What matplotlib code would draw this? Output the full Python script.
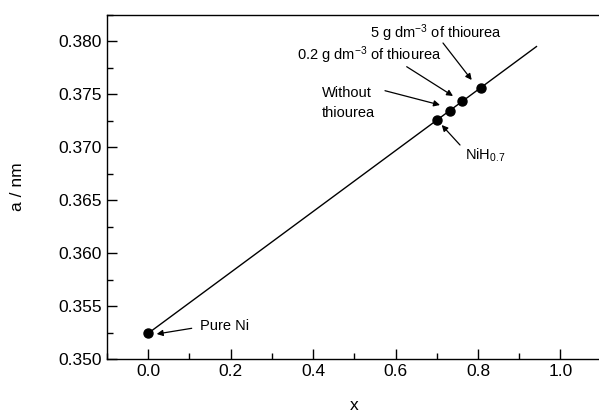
import numpy as np
import matplotlib.pyplot as plt
from matplotlib.ticker import MultipleLocator

plt.rcParams['font.family'] = ['Liberation Sans', 'DejaVu Sans']
plt.rcParams['mathtext.fontset'] = 'custom'
plt.rcParams['mathtext.rm'] = 'Liberation Sans'
plt.rcParams['mathtext.it'] = 'Liberation Sans'

# data
x_pts = [0.0, 0.70, 0.731, 0.761, 0.807]
a_pts = [0.35243, 0.3726, 0.37347, 0.37441, 0.37565]
x_line = [0.0, 0.942]
a_line = [0.35243, 0.37952]

labels = ['Pure Ni', r'NiH$_{0.7}$', 'Without\nthiourea',
          r'0.2 g dm$^{-3}$ of thiourea', r'5 g dm$^{-3}$ of thiourea']

W, H = 599, 412
# label anchors and arrows in image pixels (from top-left)
label_px = [(200, 329.5), (465, 160), (321.5, 117.5), (297, 59.5), (370, 38.5)]
arrow_from = [(191.7, 328.3), (460, 145), (385, 90.7), (406.7, 66.7), (443, 43)]
arrow_to = [(156.7, 334), (441.7, 125), (440, 105), (453, 96), (471.7, 80)]

fig = plt.figure(figsize=(W / 100, H / 100), dpi=100)
left, right, top, bottom = 107, 601.6, 15, 359
ax = fig.add_axes([left / W, (H - bottom) / H, (right - left) / W, (bottom - top) / H])

ax.plot(x_line, a_line, color='black', lw=1)
ax.plot(x_pts, a_pts, 'o', color='black', ms=6.5)

for lab, (tx, ty) in zip(labels, label_px):
    fig.text(tx / W, 1 - ty / H, lab, fontsize=10.5, ha='left', va='baseline',
             linespacing=1.6)

for (sx, sy), (ex, ey) in zip(arrow_from, arrow_to):
    ax.annotate('', xy=(ex, H - ey), xytext=(sx, H - sy),
                xycoords='figure pixels', textcoords='figure pixels',
                arrowprops=dict(arrowstyle='-|>', color='black', lw=0.9,
                                mutation_scale=9, shrinkA=0, shrinkB=0))

ax.set_xlim(-0.1, 1.1)
ax.set_ylim(0.350, 0.3825)
ax.xaxis.set_major_locator(MultipleLocator(0.2))
ax.xaxis.set_minor_locator(MultipleLocator(0.1))
ax.yaxis.set_major_locator(MultipleLocator(0.005))
ax.yaxis.set_minor_locator(MultipleLocator(0.0025))
ax.xaxis.set_major_formatter(plt.FormatStrFormatter('%.1f'))
ax.yaxis.set_major_formatter(plt.FormatStrFormatter('%.3f'))
ax.tick_params(which='both', direction='in', top=False, right=False, labelsize=12.5)
ax.tick_params(which='major', length=7, width=1)
ax.tick_params(which='minor', length=4, width=1)
for s in ax.spines.values():
    s.set_linewidth(1)

ax.set_xlabel('x', fontsize=12.5, labelpad=14)
ax.set_ylabel('a / nm', fontsize=12.5, labelpad=24)

fig.savefig('out.png', dpi=100)
